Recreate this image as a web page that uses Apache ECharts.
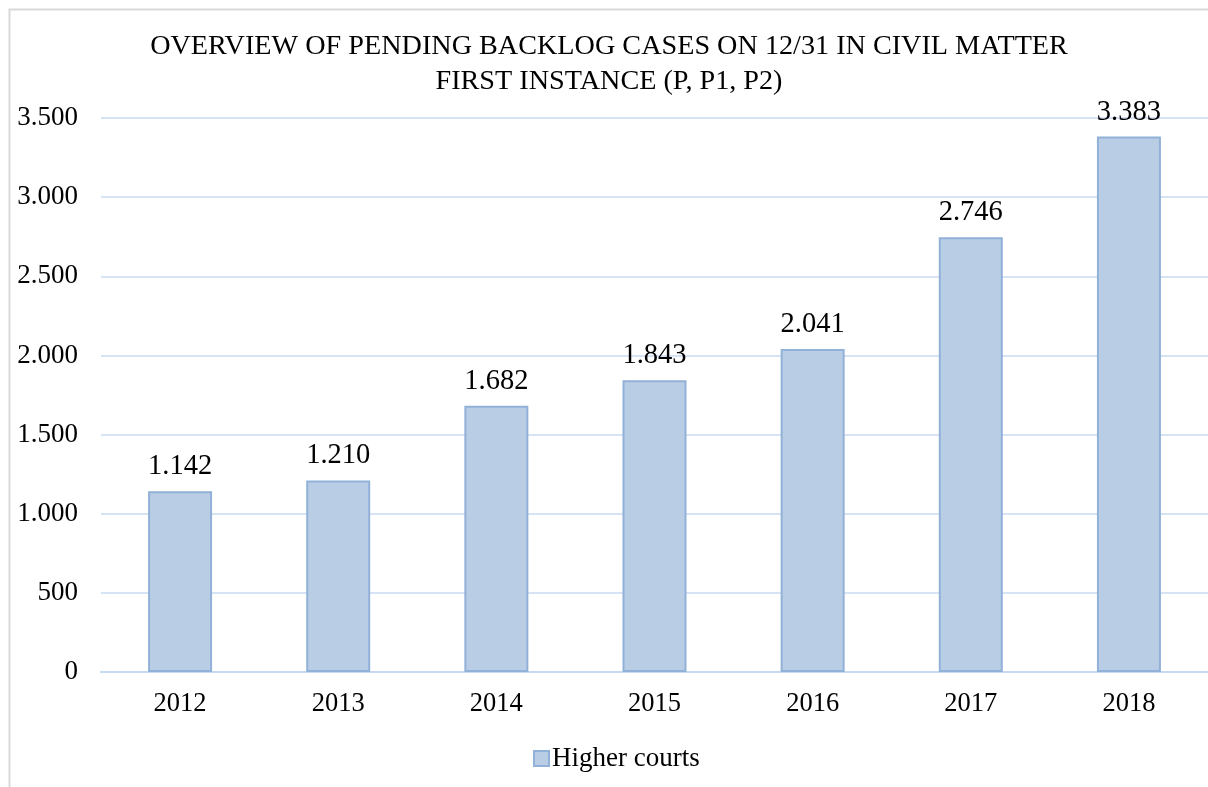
<!DOCTYPE html>
<html>
<head>
<meta charset="utf-8">
<script src="https://cdn.jsdelivr.net/npm/echarts@6/dist/echarts.min.js"></script>
<style>
  html, body { margin: 0; padding: 0; background: #fff; }
  #main { width: 1208px; height: 787px; }
</style>
</head>
<body>
<div id="main"></div>
<script>
var years = ['2012', '2013', '2014', '2015', '2016', '2017', '2018']
var higherCourts = [1142, 1210, 1682, 1843, 2041, 2746, 3383]
var titleLines = ['OVERVIEW OF PENDING BACKLOG CASES ON 12/31 IN CIVIL MATTER', 'FIRST INSTANCE (P, P1, P2)']
var seriesName = 'Higher courts'

var serif = '"Liberation Serif", "Times New Roman", serif'

// 1234 -> "1.234"
function fmt(v) {
    return String(v).replace(/\B(?=(\d{3})+(?!\d))/g, '.')
}

var chart = echarts.init(document.getElementById('main'))
var option = {
    backgroundColor: '#fff',
    animation: false,
    textStyle: { fontFamily: serif },
    graphic: [
        {
            type: 'rect',
            shape: { x: 9.5, y: 9.5, width: 1300, height: 900 },
            style: { fill: 'none', stroke: '#d9d9d9', lineWidth: 2 },
            silent: true,
        },
    ],
    title: {
        text: titleLines.join('\n'),
        left: 604,
        textAlign: 'center',
        top: 24,
        textStyle: {
            fontFamily: serif,
            fontSize: 28.2,
            fontWeight: 'normal',
            color: '#000',
            lineHeight: 35,
        },
    },
    legend: {
        data: [seriesName],
        icon: 'rect',
        bottom: 10,
        left: 528,
        itemWidth: 15,
        itemHeight: 15,
        itemGap: 4,
        textStyle: { fontFamily: serif, fontSize: 27, color: '#000', padding: [0, 0, 0, -2] },
    },
    grid: {
        left: 101,
        right: -3,
        top: 118,
        bottom: 115,
        containLabel: false,
    },
    xAxis: {
        type: 'category',
        data: years,
        axisLine: { show: true, lineStyle: { color: '#c6d9f1', width: 2 } },
        axisTick: { show: false },
        axisLabel: { fontFamily: serif, fontSize: 26.5, color: '#000', margin: 19 },
    },
    yAxis: {
        type: 'value',
        min: 0,
        max: 3500,
        interval: 500,
        axisLine: { show: false },
        axisTick: { show: false },
        axisLabel: {
            fontFamily: serif,
            fontSize: 27,
            color: '#000',
            margin: 23,
            formatter: fmt,
        },
        splitLine: { lineStyle: { color: '#d6e3f4', width: 2 } },
    },
    series: [
        {
            name: seriesName,
            type: 'bar',
            data: higherCourts,
            barWidth: 64,
            itemStyle: {
                color: '#b9cde5',
                borderColor: '#92b1d8',
                borderWidth: 2,
            },
            label: {
                show: true,
                position: 'top',
                distance: 10,
                fontFamily: serif,
                fontSize: 28.5,
                color: '#000',
                formatter: function (p) { return fmt(p.value) },
            },
        },
    ],
}
chart.setOption(option)
</script>
</body>
</html>
